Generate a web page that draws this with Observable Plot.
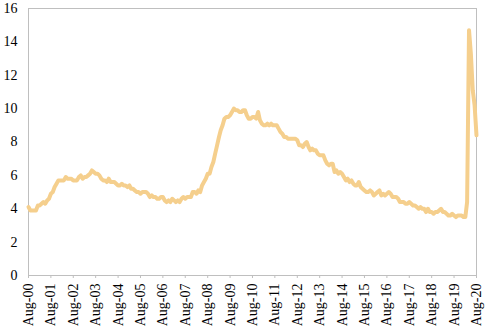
<!DOCTYPE html>
<html>
<head>
<meta charset="utf-8">
<script src="https://cdn.jsdelivr.net/npm/d3@7"></script>
<script src="https://cdn.jsdelivr.net/npm/@observablehq/plot@0.6"></script>
<style>
  html, body { margin: 0; padding: 0; background: #fff; }
  #chart svg { display: block; }
  #chart svg, #chart svg text { font-family: "Liberation Serif", "DejaVu Serif", serif !important; font-size: 14px; }
</style>
</head>
<body>
<div id="chart"></div>
<script>
// Monthly unemployment rate (%), starting Aug 2000
const startYear = 2000, startMonth = 7; // August (0-based)
const rates = [
  4.1, 3.9, 3.9, 3.9, 3.9,
  4.2, 4.2, 4.3, 4.4, 4.3, 4.5, 4.6, 4.9, 5.0, 5.3, 5.5, 5.7,
  5.7, 5.7, 5.7, 5.9, 5.8, 5.8, 5.8, 5.7, 5.7, 5.7, 5.9, 6.0,
  5.8, 5.9, 5.9, 6.0, 6.1, 6.3, 6.2, 6.1, 6.1, 6.0, 5.8, 5.7,
  5.7, 5.6, 5.8, 5.6, 5.6, 5.6, 5.5, 5.4, 5.4, 5.5, 5.4, 5.4,
  5.3, 5.4, 5.2, 5.2, 5.1, 5.0, 5.0, 4.9, 5.0, 5.0, 5.0, 4.9,
  4.7, 4.8, 4.7, 4.7, 4.6, 4.6, 4.7, 4.7, 4.5, 4.4, 4.5, 4.4,
  4.6, 4.5, 4.4, 4.5, 4.4, 4.6, 4.7, 4.6, 4.7, 4.7, 4.7, 5.0,
  5.0, 4.9, 5.1, 5.0, 5.4, 5.6, 5.8, 6.1, 6.1, 6.5, 6.8, 7.3,
  7.8, 8.3, 8.7, 9.0, 9.4, 9.5, 9.5, 9.6, 9.8, 10.0, 9.9, 9.9,
  9.8, 9.8, 9.9, 9.9, 9.6, 9.4, 9.4, 9.5, 9.5, 9.4, 9.8, 9.3,
  9.1, 9.0, 9.0, 9.1, 9.0, 9.1, 9.0, 9.0, 9.0, 8.8, 8.6, 8.5,
  8.3, 8.3, 8.2, 8.2, 8.2, 8.2, 8.2, 8.1, 7.8, 7.8, 7.7, 7.9,
  8.0, 7.7, 7.5, 7.6, 7.5, 7.5, 7.3, 7.2, 7.2, 7.2, 6.9, 6.7,
  6.6, 6.7, 6.7, 6.2, 6.3, 6.1, 6.2, 6.1, 5.9, 5.7, 5.8, 5.6,
  5.7, 5.5, 5.4, 5.4, 5.6, 5.3, 5.2, 5.1, 5.0, 5.0, 5.1, 5.0,
  4.8, 4.9, 5.0, 5.1, 4.8, 4.9, 4.8, 4.9, 5.0, 4.9, 4.7, 4.7,
  4.7, 4.6, 4.4, 4.4, 4.4, 4.3, 4.3, 4.4, 4.3, 4.2, 4.2, 4.1,
  4.0, 4.1, 4.0, 4.0, 3.8, 4.0, 3.8, 3.8, 3.7, 3.8, 3.8, 3.9,
  4.0, 3.8, 3.8, 3.7, 3.6, 3.6, 3.7, 3.6, 3.5, 3.6, 3.6, 3.6,
  3.5, 3.5, 4.4, 14.7, 13.3, 11.1, 10.2, 8.4
];
const yTicks = [0, 2, 4, 6, 8, 10, 12, 14, 16];
const tickYears = d3.range(2000, 2021);

const data = rates.map((v, i) => ({ date: new Date(startYear, startMonth + i, 1), value: v }));
const xTicks = tickYears.map(y => new Date(y, 7, 1));
const fmt = d => "Aug-" + String(d.getFullYear() % 100).padStart(2, "0");

const chart = Plot.plot({
  width: 489,
  height: 332,
  marginLeft: 28,
  marginRight: 13,
  marginTop: 8,
  marginBottom: 57,
  style: { fontSize: "14px", color: "#000", background: "#fff" },
  x: { type: "time", domain: [new Date(2000, 7, 1), new Date(2020, 7, 1)] },
  y: { domain: [0, 16] },
  marks: [
    Plot.frame({ stroke: "#bfbfbf" }),
    Plot.axisY({ ticks: yTicks, tickSize: 0, tickPadding: 11, label: null, textAnchor: "end" }),
    Plot.axisX({ ticks: xTicks, tickFormat: fmt, tickSize: 3, tickPadding: 5, tickRotate: -90, stroke: "#bfbfbf", label: null }),
    Plot.line(data, { x: "date", y: "value", stroke: "#f5cf8d", strokeWidth: 4, strokeLinejoin: "round" })
  ]
});
document.getElementById("chart").appendChild(chart);
</script>
</body>
</html>
